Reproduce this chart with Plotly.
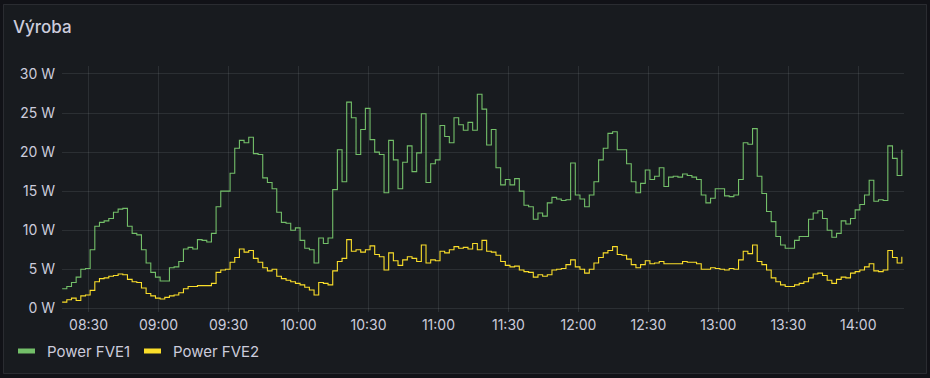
import pandas as pd
import plotly.graph_objects as go

# ---- data (2-minute samples starting 08:18:40) ----
start_time = "2024-01-01 08:18:40"
sample_step = "2min"

power_fve1 = [
    2.5, 2.8, 3.3, 4.0, 5.0, 5.1, 7.5, 10.5, 11.0, 11.2, 11.5, 12.3, 12.7, 12.8, 10.5,
    9.6, 9.4, 7.5, 5.8, 4.6, 4.0, 3.5, 3.5, 5.2, 5.3, 6.0, 7.6, 7.8, 7.6, 8.8,
    8.7, 8.5, 9.6, 13.0, 15.0, 15.0, 17.3, 20.5, 21.5, 21.2, 21.9, 19.8, 19.7, 16.7, 16.1,
    15.3, 12.3, 11.0, 10.9, 10.0, 10.3, 8.7, 7.7, 7.5, 5.8, 9.0, 8.3, 9.0, 15.2, 20.3,
    16.2, 26.4, 24.4, 19.7, 22.9, 25.6, 21.6, 20.0, 19.7, 14.8, 21.5, 19.0, 15.3, 18.7, 20.8,
    17.5, 19.9, 24.9, 16.1, 18.5, 19.0, 23.4, 22.0, 21.2, 24.4, 23.5, 22.8, 23.8, 22.8, 27.4,
    25.5, 20.9, 22.9, 18.0, 15.8, 16.5, 15.8, 16.6, 15.0, 13.2, 13.0, 11.4, 12.2, 11.8, 13.5,
    14.2, 14.0, 13.8, 13.9, 18.6, 14.5, 14.0, 13.0, 14.5, 16.2, 19.0, 20.5, 22.4, 22.6, 20.3,
    20.3, 18.5, 16.2, 14.8, 16.0, 17.7, 16.5, 16.9, 18.0, 15.6, 16.8, 16.9, 16.8, 17.2, 17.0,
    16.8, 16.5, 14.5, 13.5, 14.1, 15.3, 15.3, 14.4, 14.3, 14.5, 16.5, 21.2, 21.0, 23.0, 16.9,
    14.7, 12.4, 11.1, 9.2, 8.1, 7.7, 7.7, 8.7, 9.2, 9.2, 11.4, 12.2, 12.5, 11.5, 10.0,
    9.1, 9.6, 11.2, 10.8, 11.5, 12.6, 13.3, 14.5, 16.4, 13.7, 13.9, 13.8, 20.8, 19.2, 17.0, 20.3,
]

power_fve2 = [
    0.8, 1.1, 1.3, 1.0, 1.6, 1.7, 2.3, 3.4, 3.8, 3.9, 4.1, 4.2, 4.4, 4.3, 3.7,
    3.4, 3.3, 2.6, 1.9, 1.6, 1.3, 1.2, 1.4, 1.6, 1.7, 2.0, 2.5, 2.8, 2.8, 2.9,
    2.9, 2.9, 3.2, 4.6, 4.9, 5.0, 5.9, 6.5, 7.6, 7.2, 7.4, 6.4, 5.9, 5.2, 4.8,
    5.0, 4.1, 3.8, 3.6, 3.4, 3.2, 3.0, 2.7, 2.35, 1.7, 3.3, 3.2, 3.0, 4.8, 6.0,
    6.4, 8.8, 7.3, 7.5, 7.2, 7.5, 8.0, 6.9, 6.6, 4.9, 7.1, 6.1, 5.5, 6.2, 6.6,
    6.4, 6.0, 8.1, 5.8, 6.2, 6.1, 7.3, 7.1, 7.5, 7.9, 7.7, 7.8, 7.6, 8.3, 7.5,
    8.7, 7.3, 7.2, 6.8, 6.0, 5.5, 5.3, 5.4, 4.9, 4.7, 4.6, 4.0, 4.3, 4.1, 4.3,
    4.9, 5.0, 5.1, 5.6, 6.2, 5.3, 5.0, 4.5, 5.0, 5.8, 6.5, 7.1, 7.4, 7.9, 6.9,
    6.8, 6.3, 5.6, 5.2, 5.6, 6.1, 5.7, 5.8, 6.0, 5.7, 5.7, 5.7, 5.7, 6.0, 5.9,
    5.9, 5.7, 5.0, 5.0, 5.2, 5.1, 5.0, 4.9, 5.1, 5.0, 6.2, 7.3, 7.0, 8.1, 6.0,
    5.6, 4.9, 3.9, 3.4, 3.0, 2.8, 2.8, 3.0, 3.2, 3.4, 3.9, 4.4, 4.5, 4.2, 3.6,
    3.2, 3.7, 4.0, 3.9, 4.5, 4.7, 4.9, 5.3, 5.7, 4.8, 4.7, 4.9, 7.4, 6.5, 5.8, 6.6,
]

series_names = ["Power FVE1", "Power FVE2"]
series_colors = ["#73BF69", "#FADE2A"]
title_text = "Výroba"

times = pd.date_range(start_time, periods=len(power_fve1), freq=sample_step)

# ---- geometry helpers ----
W, H = 930, 378
ML, MR, MT, MB = 62, 26, 66, 66
PW, PH = W - ML - MR, H - MT - MB


def xp(px):
    return (px - ML) / PW


def yp(py):
    return (H - MB - py) / PH


fig = go.Figure()
for vals, name, col in zip([power_fve1, power_fve2], series_names, series_colors):
    fig.add_trace(go.Scatter(
        x=times, y=vals, mode="lines", name=name,
        line=dict(color=col, width=1.1, shape="hv"),
        showlegend=False, hoverinfo="skip",
    ))

grid = "rgba(240,250,255,0.09)"
txt = "#ccccdc"

fig.update_layout(
    width=W, height=H,
    margin=dict(l=ML, r=MR, t=MT, b=MB),
    paper_bgcolor="#111217",
    plot_bgcolor="rgba(0,0,0,0)",
    font=dict(family="Inter, Roboto, sans-serif", size=14, color=txt),
    title=dict(text=title_text, xref="container", yref="container",
               x=13 / W, xanchor="left", y=1 - 27 / H, yanchor="middle",
               font=dict(size=17, color=txt, weight=500)),
    showlegend=False,
)

fig.update_xaxes(
    range=["2024-01-01 08:18:36", "2024-01-01 14:19:36"],
    type="date", tickformat="%H:%M", dtick=30 * 60 * 1000,
    tick0="2024-01-01 08:30", showgrid=True, gridcolor=grid, gridwidth=1,
    zeroline=False, showline=False, ticks="", tickfont=dict(size=14, color=txt),
    ticklabelstandoff=3,
)
fig.update_yaxes(
    range=[-0.47, 31.02], dtick=5, tick0=0, ticksuffix=" W",
    showgrid=True, gridcolor=grid, gridwidth=1, zeroline=False,
    showline=False, ticks="", tickfont=dict(size=14, color=txt),
    ticklabelstandoff=6,
)

# panel background
fig.add_shape(type="rect", xref="paper", yref="paper",
              x0=xp(3.5), x1=xp(926.5), y0=yp(373.5), y1=yp(4.5),
              fillcolor="#181b1f", line=dict(color="rgba(204,204,220,0.12)", width=1),
              layer="below")

# custom legend
legend_items = [(18, 35, 45), (144, 161, 171)]
for (m0, m1, tx), name, col in zip(legend_items, series_names, series_colors):
    fig.add_shape(type="rect", xref="paper", yref="paper",
                  x0=xp(m0), x1=xp(m1), y0=yp(353.5), y1=yp(348.5),
                  fillcolor=col, line=dict(width=0))
    fig.add_annotation(text=name, xref="paper", yref="paper",
                       x=xp(tx), y=yp(351.5), xanchor="left", yanchor="middle",
                       showarrow=False, font=dict(size=15, color=txt))

fig.write_html("out.html",
               config={"displayModeBar": False, "staticPlot": True},
               post_script="document.body.style.margin='0';document.body.style.overflow='hidden';")
